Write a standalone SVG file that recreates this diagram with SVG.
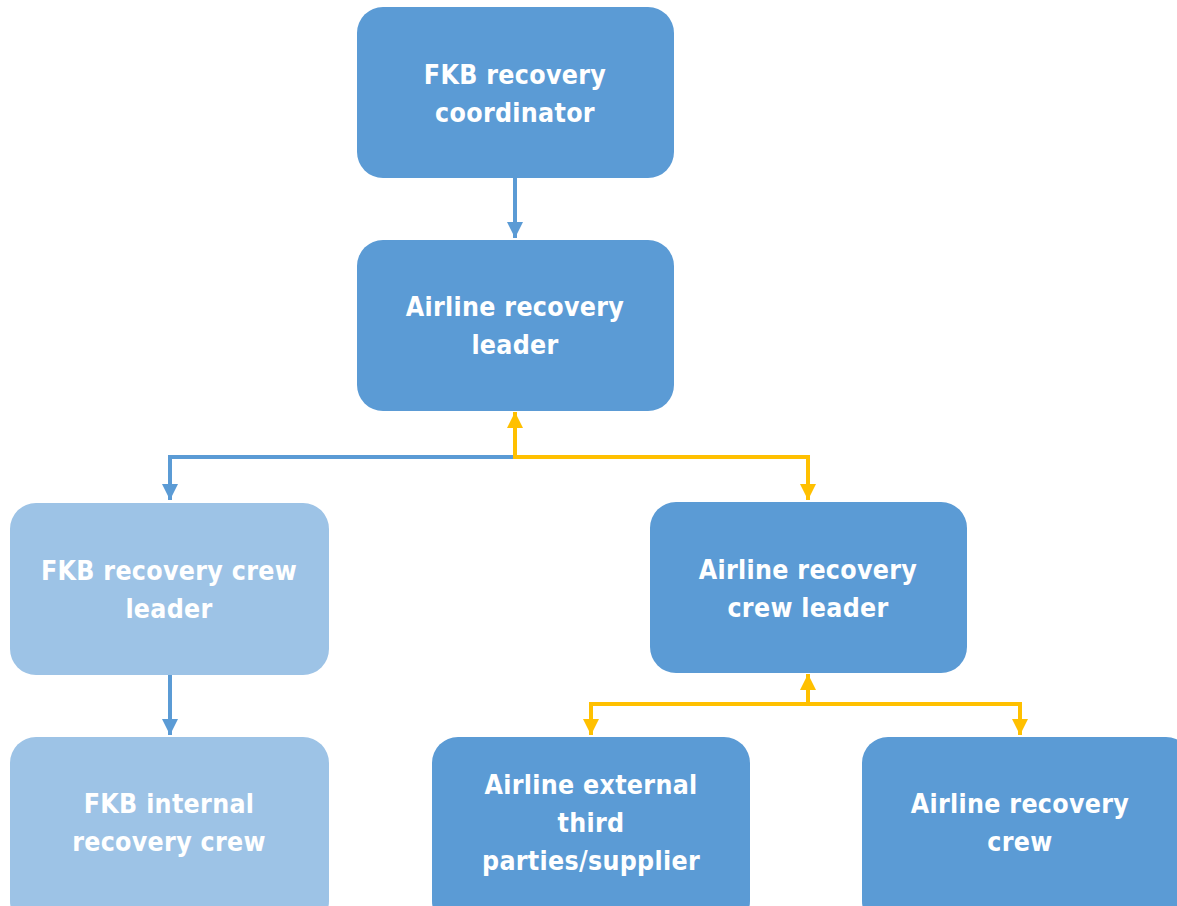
<svg xmlns="http://www.w3.org/2000/svg" width="1177" height="906" viewBox="0 0 1177 906">
<defs>
<style>
.n{fill:#5B9BD5}
.l{fill:#9DC3E6}
text{font-family:"DejaVu Sans Condensed","DejaVu Sans",sans-serif;font-weight:bold;font-size:26.5px;fill:#FFFFFF;text-anchor:middle;letter-spacing:0.3px}
.cb{stroke:#5B9BD5;stroke-width:4;fill:none}
.cy{stroke:#FFC000;stroke-width:4;fill:none}
</style>
<marker id="ab" viewBox="0 0 10 10" refX="10" refY="5" markerWidth="4" markerHeight="4" markerUnits="strokeWidth" orient="auto"><path d="M0,0L10,5L0,10z" fill="#5B9BD5"/></marker>
<marker id="ay" viewBox="0 0 10 10" refX="10" refY="5" markerWidth="4" markerHeight="4" markerUnits="strokeWidth" orient="auto"><path d="M0,0L10,5L0,10z" fill="#FFC000"/></marker>
</defs>
<rect width="1177" height="906" fill="#FFFFFF"/>
<g id="connectors">
<path class="cb" d="M515,178V238" marker-end="url(#ab)"/>
<path class="cb" d="M515,457H170V500" marker-end="url(#ab)"/>
<path class="cb" d="M170,675V735" marker-end="url(#ab)"/>
<path class="cy" d="M515,457V412" marker-end="url(#ay)"/>
<path class="cy" d="M513,457H808V500" marker-end="url(#ay)"/>
<path class="cy" d="M808,704V674" marker-end="url(#ay)"/>
<path class="cy" d="M808,704H591V735" marker-end="url(#ay)"/>
<path class="cy" d="M806,704H1020V735" marker-end="url(#ay)"/>
</g>
<g id="coordinator"><rect class="n" x="357" y="7" width="317" height="171" rx="26"/><text x="515" y="84">FKB recovery</text><text x="515" y="122">coordinator</text></g>
<g id="airline-leader"><rect class="n" x="357" y="240" width="317" height="171" rx="26"/><text x="515" y="316">Airline recovery</text><text x="515" y="354">leader</text></g>
<g id="fkb-crew-leader"><rect class="l" x="10" y="503" width="319" height="172" rx="26"/><text x="169" y="580">FKB recovery crew</text><text x="169" y="618">leader</text></g>
<g id="airline-crew-leader"><rect class="n" x="650" y="502" width="317" height="171" rx="26"/><text x="808" y="579">Airline recovery</text><text x="808" y="617">crew leader</text></g>
<g id="fkb-internal"><rect class="l" x="10" y="737" width="319" height="190" rx="26"/><text x="169" y="813">FKB internal</text><text x="169" y="851">recovery crew</text></g>
<g id="third-parties"><rect class="n" x="432" y="737" width="318" height="190" rx="26"/><text x="591" y="794">Airline external</text><text x="591" y="832">third</text><text x="591" y="870">parties/supplier</text></g>
<g id="airline-crew"><rect class="n" x="862" y="737" width="330" height="190" rx="26"/><text x="1020" y="813">Airline recovery</text><text x="1020" y="851">crew</text></g>
</svg>
